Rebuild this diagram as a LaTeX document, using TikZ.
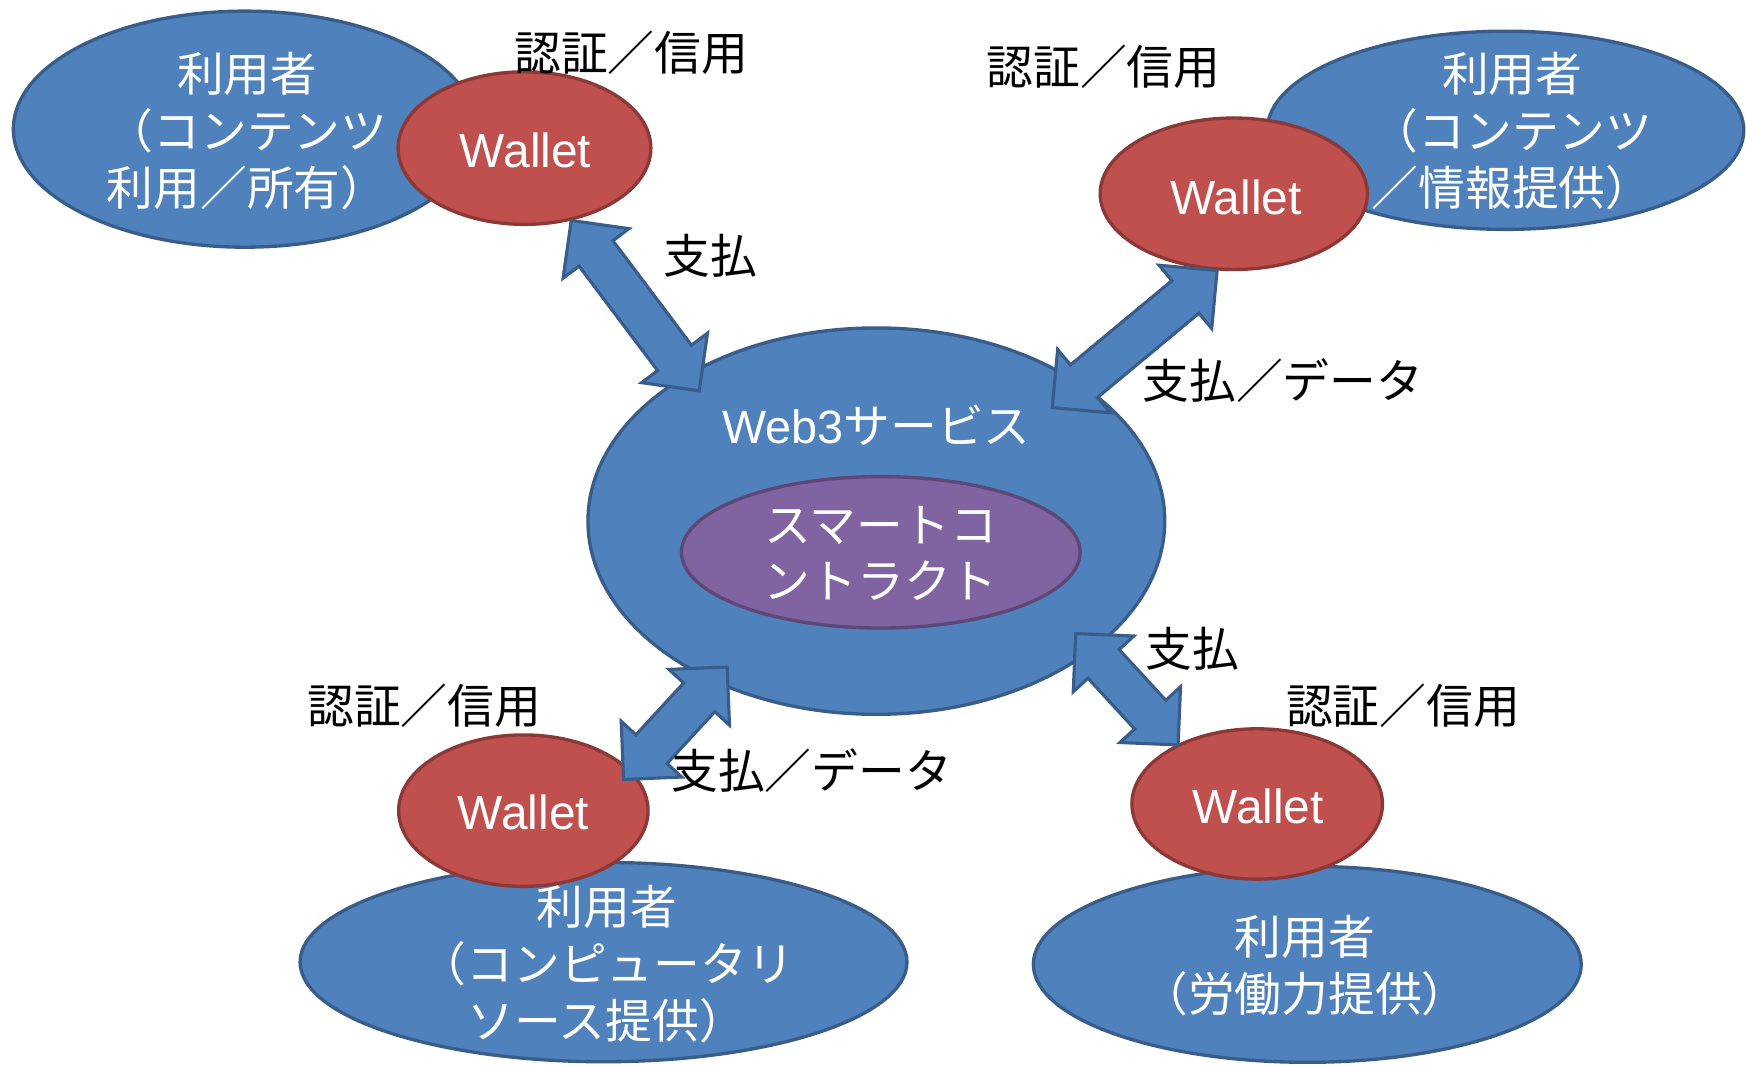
\documentclass[tikz,border=0pt]{standalone}
\usepackage{fontspec}
\setmainfont{Noto Sans CJK JP}
\newfontfamily\lat{Liberation Sans}
\usetikzlibrary{shapes.geometric,calc}
\definecolor{bluefill}{HTML}{4F81BD}
\definecolor{blueline}{HTML}{385D8A}
\definecolor{redfill}{HTML}{C0504D}
\definecolor{redline}{HTML}{8C3836}
\definecolor{purplefill}{HTML}{8064A2}
\definecolor{purpleline}{HTML}{5C4776}
\def\ahL{18.5pt}
\def\ahH{18.5pt}
\def\ahS{9.5pt}
\begin{document}
\begin{tikzpicture}[x=0.5pt,y=-0.5pt,
  ell/.style={ellipse, inner sep=0pt, line width=1.5pt},
  userell/.style={ell, draw=blueline, fill=bluefill},
  walletell/.style={ell, draw=redline, fill=redfill},
  web3ell/.style={ell, draw=blueline, fill=bluefill},
  scell/.style={ell, draw=purpleline, fill=purplefill},
  wtxt/.style={text=white, font=\fontsize{21}{25.5}\selectfont, align=center, inner sep=0pt},
  btxt/.style={text=black, font=\fontsize{21}{25.5}\selectfont, inner sep=0pt},
  wallettxt/.style={text=white, font=\lat\fontsize{21.5}{25}\selectfont, inner sep=0pt},
  blockarrow/.style={draw=blueline, fill=bluefill, line width=1.4pt, line join=miter,
    to path={
      -- ($(\tikztostart)!\ahL!(\tikztotarget)!\ahH!90:(\tikztotarget)$)
      -- ($(\tikztostart)!\ahL!(\tikztotarget)!\ahS!90:(\tikztotarget)$)
      -- ($(\tikztotarget)!\ahL!(\tikztostart)!\ahS!270:(\tikztostart)$)
      -- ($(\tikztotarget)!\ahL!(\tikztostart)!\ahH!270:(\tikztostart)$)
      -- (\tikztotarget)
      -- ($(\tikztotarget)!\ahL!(\tikztostart)!\ahH!90:(\tikztostart)$)
      -- ($(\tikztotarget)!\ahL!(\tikztostart)!\ahS!90:(\tikztostart)$)
      -- ($(\tikztostart)!\ahL!(\tikztotarget)!\ahS!270:(\tikztotarget)$)
      -- ($(\tikztostart)!\ahL!(\tikztotarget)!\ahH!270:(\tikztotarget)$)
      -- cycle}}
]
\useasboundingbox (0,0) rectangle (1568,956);
\fill[white] (0,0) rectangle (1568,956);

% top-left user
\node[userell, minimum width=208pt, minimum height=106pt] (u1) at (220,116) {};
\node[wtxt] (u1t) at (222,118) {利用者\\（コンテンツ\\利用／所有）};
\node[walletell, minimum width=113.5pt, minimum height=68.5pt] (w1) at (471,133) {};
\node[wallettxt] (w1t) at (472,135) {Wallet};

% top-right user
\node[userell, minimum width=214pt, minimum height=89pt] (u2) at (1352,117) {};
\node[wtxt] (u2t) at (1358,118) {利用者\\（コンテンツ\\／情報提供）};
\node[walletell, minimum width=120pt, minimum height=68pt] (w2) at (1108,174) {};
\node[wallettxt] (w2t) at (1110,177) {Wallet};

% bottom-left user
\node[userell, minimum width=272.5pt, minimum height=89.5pt] (u3) at (542,864) {};
\node[wtxt] (u3t) at (545,866) {利用者\\（コンピュータリ\\ソース提供）};
\node[walletell, minimum width=112pt, minimum height=68pt] (w3) at (470,728) {};
\node[wallettxt] (w3t) at (470,730) {Wallet};

% bottom-right user
\node[userell, minimum width=246pt, minimum height=88pt] (u4) at (1174,866) {};
\node[wtxt] (u4t) at (1172,867) {利用者\\（労働力提供）};
\node[walletell, minimum width=112.5pt, minimum height=67.5pt] (w4) at (1129,722) {};
\node[wallettxt] (w4t) at (1130,724) {Wallet};

% center
\node[web3ell, minimum width=259pt, minimum height=173.5pt] (web3) at (787,468) {};
\node[wtxt] (web3t) at (787,382) {{\lat Web3}サービス};
\node[scell, minimum width=179pt, minimum height=68pt] (sc) at (791,496) {};
\node[wtxt] (sct) at (791,497) {スマートコ\\ントラクト};

% arrow tips
\coordinate (a1) at (513,198);
\coordinate (b1) at (628,351);
\coordinate (a2) at (1093,243);
\coordinate (b2) at (945,366);
\coordinate (a3) at (560,700);
\coordinate (b3) at (653,599);
\coordinate (a4) at (1058,669);
\coordinate (b4) at (966,569);
\draw[blockarrow] (a1) to (b1);
\draw[blockarrow] (a2) to (b2);
\draw[blockarrow] (a3) to (b3);
\draw[blockarrow] (a4) to (b4);

% labels
\node[btxt] (l1) at (567,47) {認証／信用};
\node[btxt] (l2) at (991,60) {認証／信用};
\node[btxt] (l3) at (381,634) {認証／信用};
\node[btxt] (l4) at (1260,634) {認証／信用};
\node[btxt] (p1) at (638,230) {支払};
\node[btxt] (p2) at (1152,342) {支払／データ};
\node[btxt] (p3) at (729,692) {支払／データ};
\node[btxt] (p4) at (1071,583) {支払};
\end{tikzpicture}
\end{document}
